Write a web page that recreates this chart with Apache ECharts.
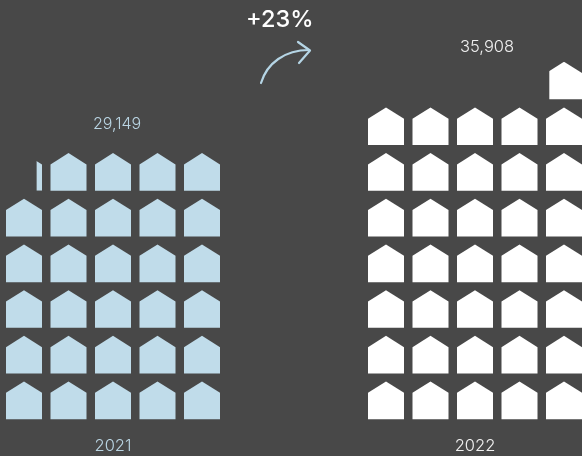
<!DOCTYPE html>
<html>
<head>
<meta charset="utf-8">
<style>html,body{margin:0;padding:0;background:#484848}#chart{width:582px;height:456px}</style>
<script src="https://cdn.jsdelivr.net/npm/echarts@6/dist/echarts.min.js"></script>
</head>
<body>
<div id="chart"></div>
<script>
// Unit chart: each house stands for a fixed number of units.
const years = ['2021', '2022'];
const totals = [29149, 35908];
const changeLabel = '+23%';
const unitsPerHouse = 1000;
const colours = ['#c0dcea', '#ffffff'];
const textColours = ['#b9d4e2', '#f0f0f0'];
const columns = 5;
const rows = 8;

const fontFamily = 'Inter, "Open Sans", sans-serif';

// Houses fill from the bottom right, row by row; the last one is cut to its fraction.
function houses(total) {
  const out = [];
  const count = total / unitsPerHouse;
  for (let i = 0; i < Math.ceil(count); i++) {
    out.push([columns - 1 - (i % columns), Math.floor(i / columns), Math.min(1, count - i)]);
  }
  return out;
}

function renderHouse(params, api) {
  const centre = api.coord([api.value(0) + 0.5, api.value(1) + 0.5]);
  const cell = api.size([1, 1]);
  const w = cell[0] * 0.809;
  const h = cell[1] * 0.825;
  const roof = h * 0.3;
  const x0 = centre[0] - w / 2, x1 = centre[0] + w / 2;
  const y0 = centre[1] - h / 2, y1 = centre[1] + h / 2;
  const fill = api.value(2);
  const el = {
    type: 'polygon',
    shape: { points: [[x0, y1], [x0, y0 + roof], [centre[0], y0], [x1, y0 + roof], [x1, y1]] },
    style: { fill: colours[params.seriesIndex] }
  };
  if (fill < 1) {
    el.clipPath = { type: 'rect', shape: { x: x1 - w * fill, y: y0, width: w * fill, height: h } };
  }
  return el;
}

const gridLefts = [1.75, 363.75];
const arrowStyle = { fill: 'none', stroke: '#b5d5e5', lineWidth: 2.2, lineCap: 'round', lineJoin: 'round' };

const option = {
  backgroundColor: '#484848',
  animation: false,
  grid: gridLefts.map(left => ({ left, width: 222.5, bottom: 32.8, height: 365.44, outerBoundsMode: 'none' })),
  xAxis: years.map((year, i) => ({
    type: 'value', gridIndex: i, min: 0, max: columns,
    name: year, nameLocation: 'middle', nameGap: 14,
    nameTextStyle: { color: textColours[i], fontSize: 16.5, fontWeight: 300, fontFamily, verticalAlign: 'top' },
    axisLine: { show: false }, axisTick: { show: false },
    axisLabel: { show: false }, splitLine: { show: false }
  })),
  yAxis: years.map((year, i) => ({
    type: 'value', gridIndex: i, min: 0, max: rows,
    axisLine: { show: false }, axisTick: { show: false },
    axisLabel: { show: false }, splitLine: { show: false }
  })),
  series: years.map((year, i) => ({
    type: 'custom', name: year, xAxisIndex: i, yAxisIndex: i,
    clip: false, silent: true,
    renderItem: renderHouse,
    encode: { x: 0, y: 1 },
    data: houses(totals[i])
  })),
  graphic: [
    { type: 'text', left: 93, top: 116, style: { text: totals[0].toLocaleString('en-US'), fill: textColours[0], font: '300 16px ' + fontFamily } },
    { type: 'text', left: 460, top: 39, style: { text: totals[1].toLocaleString('en-US'), fill: textColours[1], font: '300 16.5px ' + fontFamily } },
    { type: 'text', left: 246, top: 8, style: { text: changeLabel, fill: '#ffffff', font: '500 23.5px ' + fontFamily } },
    { type: 'bezierCurve', silent: true, shape: { x1: 261, y1: 83, cpx1: 267, cpy1: 63, cpx2: 285, cpy2: 50, x2: 309, y2: 50 }, style: arrowStyle },
    { type: 'polyline', silent: true, shape: { points: [[298, 42], [310, 50.5], [299, 63]] }, style: arrowStyle }
  ]
};

echarts.init(document.getElementById('chart'), null, { renderer: 'canvas' }).setOption(option);
</script>
</body>
</html>
